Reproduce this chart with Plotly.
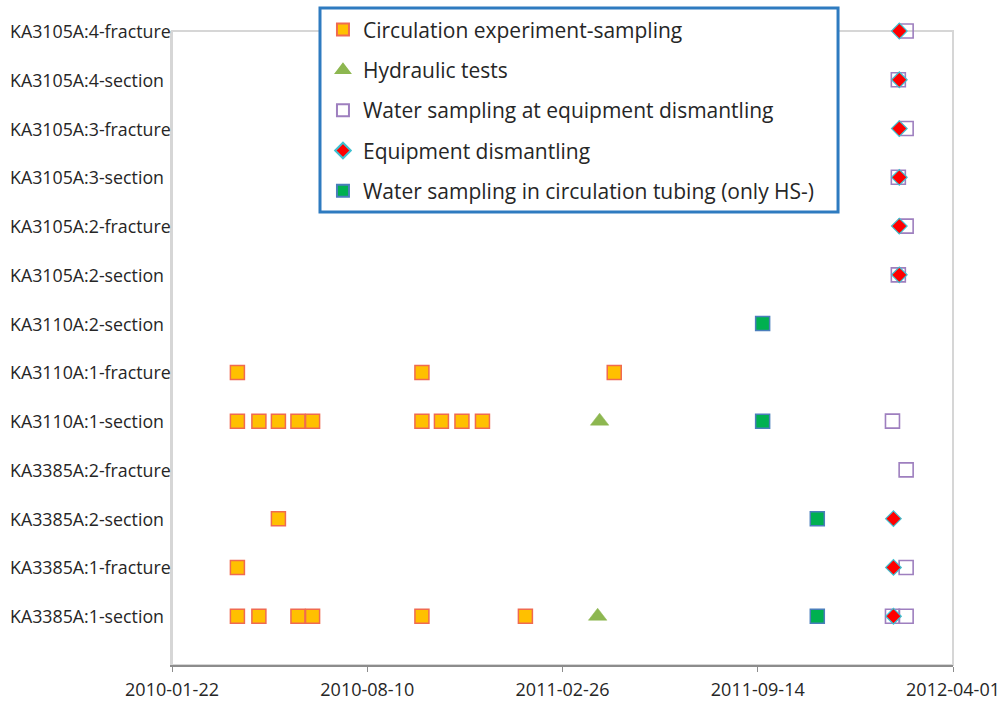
import plotly.graph_objects as go

# Boreholes / sections, listed bottom to top
wells = [
    "KA3385A:1-section", "KA3385A:1-fracture", "KA3385A:2-section",
    "KA3385A:2-fracture", "KA3110A:1-section", "KA3110A:1-fracture",
    "KA3110A:2-section", "KA3105A:2-section", "KA3105A:2-fracture",
    "KA3105A:3-section", "KA3105A:3-fracture", "KA3105A:4-section",
    "KA3105A:4-fracture",
]

# Circulation experiment-sampling
circ_dates = [
    "2010-03-30", "2010-04-21", "2010-05-31", "2010-06-15", "2010-10-05", "2011-01-19",
    "2010-03-30",
    "2010-05-11",
    "2010-03-30", "2010-04-21", "2010-05-11", "2010-05-31", "2010-06-15",
    "2010-10-05", "2010-10-25", "2010-11-15", "2010-12-06",
    "2010-03-30", "2010-10-05", "2011-04-20",
]
circ_wells = (
    ["KA3385A:1-section"] * 6
    + ["KA3385A:1-fracture"]
    + ["KA3385A:2-section"]
    + ["KA3110A:1-section"] * 9
    + ["KA3110A:1-fracture"] * 3
)

# Hydraulic tests
hyd_dates = ["2011-04-05", "2011-04-03"]
hyd_wells = ["KA3110A:1-section", "KA3385A:1-section"]

# Water sampling at equipment dismantling
wsd_dates = [
    "2012-02-13", "2012-02-05", "2012-02-13", "2012-02-05", "2012-02-13", "2012-02-05",
    "2012-01-30", "2012-02-13", "2012-02-13", "2012-01-30", "2012-02-13",
]
wsd_wells = [
    "KA3105A:4-fracture", "KA3105A:4-section", "KA3105A:3-fracture",
    "KA3105A:3-section", "KA3105A:2-fracture", "KA3105A:2-section",
    "KA3110A:1-section", "KA3385A:2-fracture", "KA3385A:1-fracture",
    "KA3385A:1-section", "KA3385A:1-section",
]

# Equipment dismantling
dis_dates = ["2012-02-06"] * 6 + ["2012-01-31"] * 3
dis_wells = [
    "KA3105A:4-fracture", "KA3105A:4-section", "KA3105A:3-fracture",
    "KA3105A:3-section", "KA3105A:2-fracture", "KA3105A:2-section",
    "KA3385A:2-section", "KA3385A:1-fracture", "KA3385A:1-section",
]

# Water sampling in circulation tubing (only HS-)
tub_dates = ["2011-09-19", "2011-09-19", "2011-11-14", "2011-11-14"]
tub_wells = ["KA3110A:2-section", "KA3110A:1-section", "KA3385A:2-section", "KA3385A:1-section"]

# Date axis ticks (every 200 days)
tick_dates = ["2010-01-22", "2010-08-10", "2011-02-26", "2011-09-14", "2012-04-01"]

fig = go.Figure()

fig.add_trace(go.Scatter(
    x=circ_dates, y=circ_wells, mode="markers", name="Circulation experiment-sampling",
    legendgroup="a", cliponaxis=False,
    marker=dict(symbol="square", size=14, color="#FFC000",
                line=dict(color="#F06A50", width=1.5)),
))
fig.add_trace(go.Scatter(
    x=hyd_dates, y=hyd_wells, mode="markers", name="Hydraulic tests",
    legendgroup="b", cliponaxis=False,
    marker=dict(symbol="triangle-up", size=16, color="#8DB750",
                line=dict(color="#8DB750", width=0.5)),
))
fig.add_trace(go.Scatter(
    x=wsd_dates, y=wsd_wells, mode="markers", name="Water sampling at equipment dismantling",
    legendgroup="c", cliponaxis=False,
    marker=dict(symbol="square", size=14, color="rgba(255,255,255,0)",
                line=dict(color="#9E7FBF", width=1.6)),
))
fig.add_trace(go.Scatter(
    x=dis_dates, y=dis_wells, mode="markers", name="Equipment dismantling",
    legendgroup="d", cliponaxis=False,
    marker=dict(symbol="diamond", size=12, color="#FF0000",
                line=dict(color="#3FC0D0", width=1.2)),
))
fig.add_trace(go.Scatter(
    x=tub_dates, y=tub_wells, mode="markers", name="Water sampling in circulation tubing (only HS-)",
    legendgroup="e", cliponaxis=False,
    marker=dict(symbol="square", size=14, color="#00B050",
                line=dict(color="#4A7EBB", width=1.5)),
))

# Plot frame
fig.add_shape(type="rect", xref="paper", yref="paper", x0=0, x1=1, y0=0, y1=1,
              line=dict(color="#D6D6D6", width=2), layer="below")
# Legend box
fig.add_shape(type="rect", xref="paper", yref="paper",
              x0=0.1895, x1=0.8528, y0=0.7145, y1=1.0363,
              line=dict(color="#2E7BC0", width=3), fillcolor="white", layer="above")

# Left-aligned category labels
for w in wells:
    fig.add_annotation(x=-0.2100, xref="paper", y=w, yref="y", text=w,
                       showarrow=False, xanchor="left", yanchor="middle",
                       font=dict(size=17.8, color="#262626"))

fig.update_layout(
    width=1001, height=704,
    margin=dict(l=172, r=48, t=31, b=39, autoexpand=False),
    paper_bgcolor="white", plot_bgcolor="white",
    font=dict(family="Open Sans, sans-serif", color="#262626"),
    showlegend=True,
    legend=dict(
        x=0.1933, y=1.034, xanchor="left", yanchor="top",
        bgcolor="rgba(0,0,0,0)", borderwidth=0,
        font=dict(size=21, color="#262626"),
        tracegroupgap=10, itemsizing="constant",
    ),
    xaxis=dict(
        type="date", range=["2010-01-22", "2012-04-01"],
        tickvals=tick_dates, ticktext=tick_dates,
        showgrid=False, zeroline=False,
        showline=True, linecolor="#8C8C8C", linewidth=1.5,
        ticks="outside", ticklen=5, tickcolor="#8C8C8C",
        tickfont=dict(size=18, color="#262626"),
        ticklabelstandoff=3,
    ),
    yaxis=dict(
        type="category", categoryorder="array", categoryarray=wells,
        range=[-1, 12],
        showgrid=False, zeroline=False,
        showline=True, linecolor="#D6D6D6", linewidth=2,
        ticks="", showticklabels=False,
    ),
)

fig.write_html("out.html")
